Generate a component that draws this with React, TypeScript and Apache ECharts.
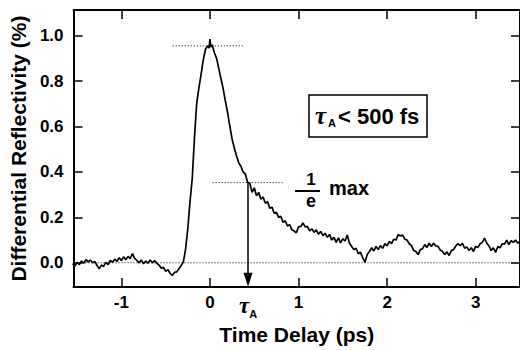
import React, { useEffect, useRef } from "react";
import * as echarts from "echarts";

// Time delay (ps) of each sample of the measured trace
const delayPs = [
  -1.55, -1.525, -1.5, -1.475, -1.45, -1.425, -1.4, -1.375, -1.35, -1.325,
  -1.3, -1.275, -1.25, -1.225, -1.2, -1.175, -1.15, -1.125, -1.1, -1.075,
  -1.05, -1.025, -1.0, -0.975, -0.95, -0.925, -0.9, -0.875, -0.85, -0.825,
  -0.8, -0.775, -0.75, -0.725, -0.7, -0.675, -0.65, -0.625, -0.6, -0.575,
  -0.55, -0.525, -0.5, -0.475, -0.45, -0.425, -0.4, -0.375, -0.35, -0.325,
  -0.3, -0.275, -0.25, -0.225, -0.2, -0.175, -0.15, -0.125, -0.1, -0.075,
  -0.05, -0.025, -0.01, 0.0, 0.01, 0.025, 0.05, 0.075, 0.1, 0.125,
  0.15, 0.175, 0.2, 0.225, 0.25, 0.275, 0.3, 0.325, 0.35, 0.375,
  0.4, 0.425, 0.45, 0.475, 0.5, 0.525, 0.55, 0.575, 0.6, 0.625,
  0.65, 0.675, 0.7, 0.725, 0.75, 0.775, 0.8, 0.825, 0.85, 0.875,
  0.9, 0.925, 0.95, 0.975, 1.0, 1.025, 1.05, 1.075, 1.1, 1.125,
  1.15, 1.175, 1.2, 1.225, 1.25, 1.275, 1.3, 1.325, 1.35, 1.375,
  1.4, 1.425, 1.45, 1.475, 1.5, 1.525, 1.55, 1.575, 1.6, 1.625,
  1.65, 1.675, 1.7, 1.725, 1.75, 1.775, 1.8, 1.825, 1.85, 1.875,
  1.9, 1.925, 1.95, 1.975, 2.0, 2.025, 2.05, 2.075, 2.1, 2.125,
  2.15, 2.175, 2.2, 2.225, 2.25, 2.275, 2.3, 2.325, 2.35, 2.375,
  2.4, 2.425, 2.45, 2.475, 2.5, 2.525, 2.55, 2.575, 2.6, 2.625,
  2.65, 2.675, 2.7, 2.725, 2.75, 2.775, 2.8, 2.825, 2.85, 2.875,
  2.9, 2.925, 2.95, 2.975, 3.0, 3.025, 3.05, 3.075, 3.1, 3.125,
  3.15, 3.175, 3.2, 3.225, 3.25, 3.275, 3.3, 3.325, 3.35, 3.375,
  3.4, 3.425, 3.45, 3.475, 3.5,
];

// Differential reflectivity (%)
const reflectivity = [
  -0.004, -0.014, 0.002, -0.008, 0.008, -0.002, 0.014, 0.004, 0.012, 0.0,
  0.006, -0.012, -0.026, -0.01, -0.016, 0.002, -0.008, 0.01, 0.002, 0.016,
  0.006, 0.022, 0.01, 0.026, 0.014, 0.028, 0.018, 0.04, 0.02, 0.01,
  0.0, 0.012, -0.004, 0.008, -0.002, 0.012, 0.0, 0.01, -0.002, -0.01,
  -0.024, -0.02, -0.038, -0.03, -0.046, -0.056, -0.042, -0.04, -0.026, -0.012,
  0.004, 0.06, 0.15, 0.27, 0.37, 0.55, 0.7, 0.77, 0.83, 0.895,
  0.94, 0.955, 0.945, 0.985, 0.95, 0.96, 0.925, 0.9, 0.855, 0.81,
  0.765, 0.71, 0.66, 0.6, 0.545, 0.505, 0.47, 0.44, 0.425, 0.4,
  0.39, 0.355, 0.35, 0.31, 0.33, 0.295, 0.31, 0.28, 0.29, 0.262,
  0.27, 0.24, 0.245, 0.218, 0.222, 0.2, 0.205, 0.178, 0.185, 0.162,
  0.168, 0.145, 0.14, 0.132, 0.158, 0.16, 0.176, 0.158, 0.16, 0.14,
  0.15, 0.134, 0.145, 0.126, 0.138, 0.12, 0.13, 0.112, 0.125, 0.1,
  0.112, 0.09, 0.11, 0.088, 0.106, 0.096, 0.122, 0.086, 0.072, 0.058,
  0.064, 0.04, 0.046, 0.022, 0.002, 0.036, 0.05, 0.066, 0.052, 0.072,
  0.058, 0.076, 0.064, 0.084, 0.074, 0.094, 0.084, 0.104, 0.1, 0.124,
  0.118, 0.122, 0.104, 0.1, 0.084, 0.076, 0.054, 0.05, 0.036, 0.058,
  0.062, 0.08, 0.068, 0.086, 0.072, 0.086, 0.074, 0.072, 0.056, 0.05,
  0.036, 0.048, 0.032, 0.054, 0.058, 0.074, 0.084, 0.076, 0.086, 0.064,
  0.07, 0.054, 0.066, 0.05, 0.072, 0.068, 0.084, 0.09, 0.108, 0.086,
  0.074, 0.054, 0.066, 0.046, 0.072, 0.066, 0.084, 0.082, 0.1, 0.08,
  0.098, 0.09, 0.1, 0.086, 0.096,
];

const xTicks = [-1, 0, 1, 2, 3];
const yTicks = [0, 0.2, 0.4, 0.6, 0.8, 1.0];
const xRange = [-1.54, 3.5];
const yRange = [-0.107, 1.113];
const tauA = 0.43;
const peakLevel = 0.955;
const peakSpan = [-0.42, 0.39];
const eLevel = 0.353;
const eSpan = [0.03, 0.82];
const arrowEnd = -0.075;

const FONT = '"Liberation Sans", Arial, Helvetica, sans-serif';
const SERIF = '"Liberation Serif", "DejaVu Serif", serif';

const dotted = { color: "#000", width: 1, type: [1, 2] as number[] };

function buildOption() {
  const axisLine = { show: true, onZero: false, lineStyle: { color: "#000", width: 2 } };
  const tickBase = { show: true, inside: true, length: 9, lineStyle: { color: "#000", width: 1.5 } };
  return {
    animation: false,
    backgroundColor: "#fff",
    grid: { left: 73, top: 10, right: -2, bottom: 52, containLabel: false },
    xAxis: [
      {
        type: "value",
        position: "bottom",
        min: xRange[0],
        max: xRange[1],
        axisLine,
        axisTick: { ...tickBase, customValues: xTicks },
        splitLine: { show: false },
        axisLabel: {
          customValues: [-1, 0, tauA, 1, 2, 3],
          color: "#000",
          fontSize: 17,
          fontWeight: "bold",
          fontFamily: FONT,
          margin: 7,
          formatter: (v: number) => (Math.abs(v - tauA) < 1e-6 ? "{tau|τ}{sub|A}" : String(v)),
          rich: {
            tau: { fontSize: 23, fontStyle: "italic", fontWeight: "bold", fontFamily: SERIF, color: "#000", verticalAlign: "top", lineHeight: 20 },
            sub: { fontSize: 11, fontWeight: "bold", fontFamily: FONT, color: "#000", verticalAlign: "bottom", lineHeight: 11, padding: [0, 0, -5, 0] },
          },
        },
        name: "Time Delay (ps)",
        nameLocation: "middle",
        nameGap: 25,
        nameTextStyle: { color: "#000", fontSize: 21, fontWeight: "bold", fontFamily: FONT },
      },
      {
        type: "value",
        position: "top",
        min: xRange[0],
        max: xRange[1],
        axisLine,
        axisTick: { ...tickBase, customValues: xTicks },
        axisLabel: { show: false },
        splitLine: { show: false },
      },
    ],
    yAxis: [
      {
        type: "value",
        position: "left",
        min: yRange[0],
        max: yRange[1],
        axisLine,
        axisTick: { ...tickBase, customValues: yTicks },
        splitLine: { show: false },
        axisLabel: {
          customValues: yTicks,
          color: "#000",
          fontSize: 17,
          fontWeight: "bold",
          fontFamily: FONT,
          margin: 10,
          formatter: (v: number) => v.toFixed(1),
        },
        name: "Differential Reflectivity (%)",
        nameLocation: "middle",
        nameGap: 44,
        nameTextStyle: { color: "#000", fontSize: 21, fontWeight: "bold", fontFamily: FONT },
      },
      {
        type: "value",
        position: "right",
        min: yRange[0],
        max: yRange[1],
        axisLine,
        axisTick: { ...tickBase, customValues: yTicks },
        axisLabel: { show: false },
        splitLine: { show: false },
      },
    ],
    series: [
      {
        type: "line",
        name: "zero",
        data: [[xRange[0], 0], [xRange[1], 0]],
        showSymbol: false,
        lineStyle: dotted,
        z: 1,
      },
      {
        type: "line",
        name: "peak",
        data: [[peakSpan[0], peakLevel], [peakSpan[1], peakLevel]],
        showSymbol: false,
        lineStyle: dotted,
        z: 1,
      },
      {
        type: "line",
        name: "1/e",
        data: [[eSpan[0], eLevel], [eSpan[1], eLevel]],
        showSymbol: false,
        lineStyle: dotted,
        z: 1,
      },
      {
        type: "line",
        name: "trace",
        data: delayPs.map((t, i) => [t, reflectivity[i]]),
        showSymbol: false,
        clip: true,
        lineStyle: { color: "#000", width: 1.7 },
        z: 3,
        markLine: {
          silent: true,
          symbol: ["none", "triangle"],
          symbolSize: [9, 14],
          label: { show: false },
          lineStyle: { color: "#000", width: 1.5, type: "solid" },
          data: [[{ coord: [tauA, eLevel] }, { coord: [tauA, arrowEnd] }]],
        },
      },
    ],
    graphic: [
      {
        type: "rect",
        shape: { x: 309, y: 95, width: 118, height: 42 },
        style: { fill: "none", stroke: "#000", lineWidth: 1.5 },
      },
      {
        type: "text",
        x: 315,
        y: 115,
        style: { text: "τ", font: `italic bold 25px ${SERIF}`, fill: "#000", verticalAlign: "middle" },
      },
      {
        type: "text",
        x: 328,
        y: 123,
        style: { text: "A", font: `bold 11px ${FONT}`, fill: "#000", verticalAlign: "middle" },
      },
      {
        type: "text",
        x: 338,
        y: 116,
        style: { text: "< 500 fs", font: `bold 22px ${FONT}`, fill: "#000", verticalAlign: "middle" },
      },
      {
        type: "text",
        x: 311,
        y: 179,
        style: { text: "1", font: `bold 17px ${FONT}`, fill: "#000", align: "center", verticalAlign: "middle" },
      },
      {
        type: "line",
        shape: { x1: 295, y1: 191, x2: 320, y2: 191 },
        style: { stroke: "#000", lineWidth: 2 },
      },
      {
        type: "text",
        x: 311,
        y: 201,
        style: { text: "e", font: `bold 18px ${FONT}`, fill: "#000", align: "center", verticalAlign: "middle" },
      },
      {
        type: "text",
        x: 329,
        y: 188,
        style: { text: "max", font: `bold 20px ${FONT}`, fill: "#000", verticalAlign: "middle" },
      },
    ],
  };
}

export default function App() {
  const ref = useRef<HTMLDivElement>(null);
  useEffect(() => {
    if (!ref.current) return;
    const chart = echarts.init(ref.current, null, { renderer: "svg" });
    chart.setOption(buildOption() as any);
    return () => chart.dispose();
  }, []);
  return (
    <div
      ref={ref}
      style={{ width: 520, height: 350, position: "absolute", left: 0, top: 0, background: "#fff" }}
    />
  );
}
